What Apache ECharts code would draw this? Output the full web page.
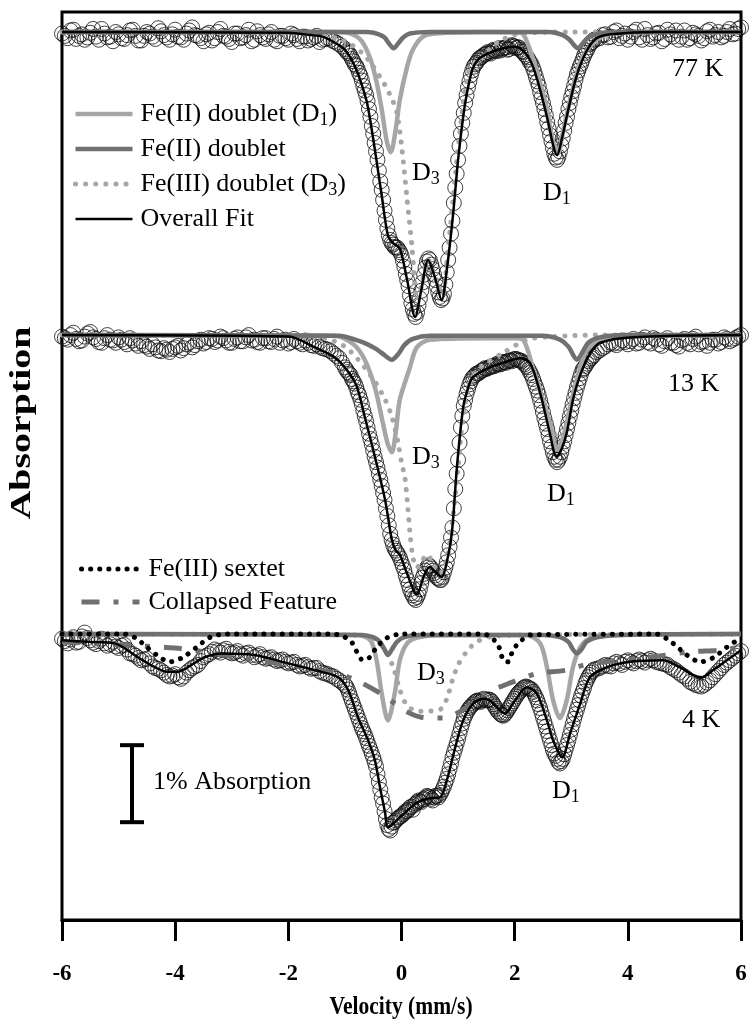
<!DOCTYPE html>
<html><head><meta charset="utf-8">
<script src="https://cdn.jsdelivr.net/npm/echarts@6/dist/echarts.min.js"></script>
<style>html,body{margin:0;padding:0;background:#fff}#c{width:751px;height:1029px}</style>
</head><body><div id="c"></div>
<script>
// Velocity channels, set A (mm/s)
const velocity = [
-6.0,-5.9,-5.8,-5.7,-5.6,-5.5,-5.4,-5.3,-5.2,-5.1,
-5.0,-4.9,-4.8,-4.7,-4.6,-4.5,-4.4,-4.3,-4.2,-4.1,
-4.0,-3.9,-3.8,-3.7,-3.6,-3.5,-3.4,-3.3,-3.2,-3.1,
-3.0,-2.9,-2.8,-2.7,-2.6,-2.5,-2.4,-2.3,-2.2,-2.1,
-2.0,-1.9,-1.8,-1.7,-1.6,-1.5,-1.4,-1.3,-1.2,-1.1,
-1.0,-0.95,-0.9,-0.85,-0.8,-0.75,-0.7,-0.65,-0.6,-0.55,
-0.5,-0.45,-0.4,-0.35,-0.3,-0.25,-0.2,-0.15,-0.1,-0.05,
0.0,0.05,0.1,0.15,0.2,0.25,0.3,0.35,0.4,0.45,
0.5,0.55,0.6,0.65,0.7,0.75,0.8,0.85,0.9,0.95,
1.0,1.05,1.1,1.15,1.2,1.25,1.3,1.35,1.4,1.45,
1.5,1.55,1.6,1.65,1.7,1.75,1.8,1.85,1.9,1.95,
2.0,2.05,2.1,2.15,2.2,2.25,2.3,2.35,2.4,2.45,
2.5,2.55,2.6,2.65,2.7,2.75,2.8,2.85,2.9,2.95,
3.0,3.05,3.1,3.15,3.2,3.25,3.3,3.35,3.4,3.5,
3.6,3.7,3.8,3.9,4.0,4.1,4.2,4.3,4.4,4.5,
4.6,4.7,4.8,4.9,5.0,5.1,5.2,5.3,5.4,5.5,
5.6,5.7,5.8,5.9,6.0];
// Velocity channels, set B (mm/s)
const velocityB = [
-5.95,-5.85,-5.75,-5.65,-5.55,-5.45,-5.35,-5.25,-5.15,-5.05,
-4.95,-4.85,-4.75,-4.65,-4.55,-4.45,-4.35,-4.25,-4.15,-4.05,
-3.95,-3.85,-3.75,-3.65,-3.55,-3.45,-3.35,-3.25,-3.15,-3.05,
-2.95,-2.85,-2.75,-2.65,-2.55,-2.45,-2.35,-2.25,-2.15,-2.05,
-1.95,-1.85,-1.75,-1.65,-1.55,-1.45,-1.35,-1.25,-1.15,-1.05,
-0.975,-0.925,-0.875,-0.825,-0.775,-0.725,-0.675,-0.625,-0.575,-0.525,
-0.475,-0.425,-0.375,-0.325,-0.275,-0.225,-0.175,-0.125,-0.075,-0.025,
0.025,0.075,0.125,0.175,0.225,0.275,0.325,0.375,0.425,0.475,
0.525,0.575,0.625,0.675,0.725,0.775,0.825,0.875,0.925,0.975,
1.025,1.075,1.125,1.175,1.225,1.275,1.325,1.375,1.425,1.475,
1.525,1.575,1.625,1.675,1.725,1.775,1.825,1.875,1.925,1.975,
2.025,2.075,2.125,2.175,2.225,2.275,2.325,2.375,2.425,2.475,
2.525,2.575,2.625,2.675,2.725,2.775,2.825,2.875,2.925,2.975,
3.025,3.075,3.125,3.175,3.225,3.275,3.325,3.375,
3.45,3.55,3.65,3.75,3.85,3.95,4.05,4.15,4.25,4.35,
4.45,4.55,4.65,4.75,4.85,4.95,5.05,5.15,5.25,5.35,
5.45,5.55,5.65,5.75,5.85,5.95];

// Measured absorption (%) on set A
const abs77K = [
0.02,0.08,-0.03,0.05,0.1,0.01,0.06,-0.04,0.07,0.12,
0.03,0.09,-0.02,0.05,0.11,0.0,0.06,-0.05,0.04,0.1,
-0.03,0.07,0.02,-0.06,0.05,0.12,0.01,0.08,-0.04,0.06,
0.13,0.02,0.07,-0.03,0.1,0.04,0.09,0.0,0.12,0.05,
0.1,0.04,0.12,0.06,0.09,0.05,0.1,0.08,0.12,0.16,
0.22,0.27,0.31,0.38,0.44,0.53,0.63,0.76,0.9,1.1,
1.32,1.55,1.8,2.05,2.32,2.55,2.7,2.76,2.8,2.83,
2.9,3.05,3.22,3.42,3.6,3.7,3.55,3.36,3.15,2.98,
2.96,3.08,3.22,3.38,3.48,3.4,3.12,2.8,2.45,2.02,
1.66,1.32,1.05,0.82,0.64,0.5,0.42,0.37,0.33,0.3,
0.28,0.27,0.25,0.24,0.23,0.24,0.21,0.2,0.22,0.17,
0.19,0.2,0.23,0.26,0.31,0.36,0.42,0.52,0.64,0.78,
0.92,1.08,1.25,1.42,1.58,1.66,1.55,1.38,1.18,1.0,
0.84,0.7,0.55,0.45,0.36,0.27,0.2,0.14,0.1,0.08,
0.03,0.06,-0.02,0.05,0.1,0.0,0.07,-0.04,0.09,0.02,
0.12,-0.03,0.06,0.1,-0.02,0.08,0.03,0.11,-0.01,0.06,
0.0,0.05,-0.04,0.02,-0.06];
const abs13K = [
0.02,0.06,-0.03,0.08,0.02,-0.04,0.05,0.1,0.0,0.07,
0.03,0.09,0.04,0.11,0.08,0.15,0.12,0.2,0.17,0.22,
0.16,0.2,0.12,0.16,0.08,0.11,0.04,0.09,0.02,0.07,
0.1,0.03,0.08,0.0,0.06,0.1,0.04,0.09,0.02,0.07,
0.11,0.05,0.1,0.07,0.13,0.12,0.17,0.19,0.24,0.3,
0.42,0.48,0.52,0.6,0.68,0.78,0.9,1.05,1.2,1.35,
1.5,1.65,1.8,1.96,2.14,2.35,2.58,2.72,2.8,2.86,
2.95,3.05,3.18,3.3,3.38,3.44,3.36,3.22,3.1,3.02,
3.0,3.06,3.12,3.16,3.18,3.08,2.95,2.75,2.5,2.0,
1.62,1.2,0.92,0.76,0.64,0.56,0.52,0.5,0.47,0.45,
0.44,0.42,0.41,0.4,0.37,0.38,0.35,0.36,0.33,0.34,
0.31,0.32,0.33,0.36,0.4,0.45,0.52,0.62,0.72,0.85,
1.0,1.15,1.3,1.45,1.58,1.65,1.58,1.45,1.3,1.14,
0.98,0.82,0.68,0.56,0.45,0.4,0.34,0.3,0.26,0.2,
0.15,0.1,0.13,0.07,0.12,0.05,0.1,0.03,0.11,0.06,
0.14,0.04,0.1,0.15,0.05,0.12,0.02,0.09,0.14,0.06,
0.11,0.03,0.08,0.04,0.0];
const abs4K = [
0.06,0.12,0.04,0.1,-0.02,0.08,0.13,0.06,0.15,0.1,
0.18,0.14,0.25,0.28,0.34,0.32,0.42,0.45,0.5,0.55,
0.52,0.58,0.5,0.44,0.4,0.3,0.26,0.2,0.24,0.19,
0.25,0.22,0.28,0.24,0.3,0.26,0.32,0.3,0.35,0.33,
0.38,0.36,0.42,0.4,0.45,0.44,0.5,0.52,0.55,0.6,
0.66,0.72,0.82,0.92,1.02,1.12,1.22,1.3,1.4,1.5,
1.6,1.72,1.92,2.12,2.3,2.48,2.55,2.45,2.42,2.38,
2.36,2.32,2.3,2.25,2.28,2.2,2.16,2.18,2.14,2.1,
2.12,2.16,2.1,2.12,2.06,1.98,1.88,1.75,1.6,1.48,
1.36,1.22,1.1,1.02,0.96,0.92,0.88,0.86,0.88,0.84,
0.86,0.85,0.88,0.94,1.0,1.04,1.06,1.02,0.96,0.9,
0.84,0.78,0.74,0.7,0.68,0.7,0.72,0.78,0.86,0.96,
1.08,1.2,1.32,1.44,1.55,1.62,1.68,1.62,1.5,1.38,
1.24,1.1,0.98,0.86,0.75,0.64,0.56,0.5,0.46,0.44,
0.4,0.42,0.36,0.4,0.34,0.38,0.33,0.37,0.32,0.36,
0.38,0.4,0.45,0.5,0.55,0.62,0.66,0.68,0.63,0.56,
0.48,0.4,0.34,0.28,0.22];

// Measured absorption (%) on set B
const abs77K_B = [
0.05,-0.02,0.09,0.03,0.07,-0.04,0.1,0.02,0.06,0.0,
0.08,0.04,-0.03,0.11,0.05,0.02,0.09,-0.01,0.07,0.03,
0.06,0.1,-0.02,0.04,0.08,0.03,0.11,0.0,0.05,0.09,
0.02,0.08,0.04,0.12,-0.01,0.07,0.03,0.1,0.05,0.08,
0.02,0.09,0.06,0.11,0.07,0.13,0.09,0.1,0.14,0.19,
0.25,0.28,0.35,0.42,0.48,0.57,0.7,0.82,1.0,1.22,
1.44,1.66,1.94,2.18,2.44,2.64,2.74,2.79,2.8,2.86,
2.97,3.14,3.3,3.52,3.66,3.64,3.46,3.25,3.06,2.94,
3.02,3.15,3.3,3.44,3.46,3.28,2.96,2.62,2.22,1.84,
1.48,1.18,0.92,0.72,0.56,0.45,0.4,0.34,0.32,0.29,
0.26,0.28,0.23,0.25,0.21,0.22,0.2,0.23,0.19,0.18,
0.21,0.2,0.25,0.29,0.33,0.4,0.47,0.58,0.7,0.85,
1.0,1.17,1.34,1.5,1.63,1.62,1.47,1.28,1.1,0.92,
0.77,0.62,0.5,0.41,0.31,0.24,0.16,0.13,
0.09,0.04,0.07,0.0,0.08,0.02,0.06,-0.03,0.1,0.04,
0.07,0.01,0.09,0.03,-0.02,0.06,0.1,0.01,0.05,0.08,
-0.03,0.04,0.07,0.0,0.03,-0.04];
const abs13K_B = [
0.04,0.0,0.05,0.07,-0.02,0.03,0.09,0.04,0.06,0.1,
0.06,0.12,0.07,0.14,0.13,0.18,0.16,0.21,0.19,0.18,
0.14,0.17,0.1,0.13,0.06,0.09,0.05,0.07,0.04,0.1,
0.05,0.08,0.03,0.07,0.09,0.04,0.08,0.05,0.1,0.06,
0.09,0.08,0.12,0.1,0.14,0.15,0.18,0.21,0.27,0.36,
0.45,0.5,0.57,0.63,0.74,0.84,0.98,1.12,1.28,1.42,
1.58,1.72,1.88,2.05,2.25,2.47,2.66,2.77,2.83,2.9,
3.0,3.12,3.24,3.35,3.42,3.4,3.3,3.15,3.06,2.99,
3.03,3.09,3.15,3.18,3.14,3.02,2.86,2.63,2.25,1.8,
1.4,1.05,0.84,0.7,0.6,0.54,0.5,0.49,0.46,0.43,
0.43,0.41,0.4,0.38,0.38,0.36,0.35,0.34,0.33,0.32,
0.31,0.33,0.34,0.38,0.42,0.49,0.57,0.67,0.78,0.92,
1.08,1.22,1.38,1.52,1.62,1.62,1.52,1.38,1.22,1.06,
0.9,0.75,0.62,0.5,0.43,0.37,0.32,0.28,
0.22,0.17,0.12,0.11,0.1,0.09,0.08,0.11,0.06,0.09,
0.04,0.12,0.08,0.1,0.13,0.07,0.1,0.05,0.12,0.08,
0.1,0.06,0.09,0.05,0.06,0.02];
const abs4K_B = [
0.09,0.07,0.11,0.03,0.05,0.11,0.09,0.12,0.13,0.16,
0.15,0.2,0.26,0.31,0.33,0.38,0.44,0.47,0.53,0.54,
0.56,0.55,0.47,0.42,0.35,0.28,0.23,0.22,0.21,0.23,
0.24,0.26,0.25,0.27,0.28,0.3,0.31,0.33,0.34,0.36,
0.37,0.4,0.41,0.43,0.44,0.48,0.51,0.54,0.58,0.63,
0.68,0.77,0.87,0.97,1.07,1.17,1.26,1.35,1.45,1.55,
1.66,1.82,2.02,2.2,2.4,2.53,2.5,2.44,2.4,2.37,
2.34,2.3,2.28,2.24,2.22,2.18,2.17,2.15,2.12,2.11,
2.14,2.12,2.1,2.09,2.02,1.93,1.82,1.68,1.54,1.42,
1.29,1.16,1.06,0.99,0.94,0.9,0.87,0.87,0.86,0.85,
0.85,0.86,0.91,0.97,1.02,1.05,1.04,0.99,0.93,0.87,
0.81,0.76,0.72,0.69,0.69,0.71,0.75,0.82,0.91,1.02,
1.14,1.26,1.38,1.5,1.58,1.66,1.65,1.56,1.44,1.31,
1.17,1.04,0.92,0.8,0.7,0.6,0.53,0.48,
0.45,0.42,0.41,0.38,0.38,0.36,0.36,0.35,0.35,0.34,
0.34,0.37,0.39,0.43,0.47,0.53,0.58,0.64,0.67,0.66,
0.6,0.52,0.44,0.37,0.31,0.25];

// Fitted components [velocity, absorption %]
const d1_77K = [[-6,0],[-1.2,0],[-0.9,0.02],[-0.7,0.12],[-0.55,0.35],[-0.45,0.62],[-0.35,1.0],[-0.26,1.42],[-0.19,1.56],[-0.1,1.25],[-0.03,0.88],[0.1,0.45],[0.2,0.23],[0.38,0.06],[0.6,0.02],[1.5,0],[2.1,0.01],[2.27,0.23],[2.45,0.66],[2.57,1.0],[2.67,1.4],[2.77,1.57],[2.85,1.31],[2.98,0.88],[3.1,0.53],[3.2,0.32],[3.45,0.1],[3.74,0.02],[4.5,0],[6,0]];
const fe2_77K = [[-6,0],[-0.6,0],[-0.4,0.03],[-0.3,0.07],[-0.22,0.15],[-0.14,0.21],[-0.06,0.15],[0.03,0.07],[0.15,0.02],[0.5,0],[2.6,0],[2.85,0.04],[2.97,0.1],[3.05,0.17],[3.12,0.21],[3.2,0.15],[3.3,0.07],[3.45,0.03],[3.8,0],[6,0]];
const d3_77K = [[-6,0],[-1.6,0.02],[-1.0,0.12],[-0.7,0.27],[-0.5,0.45],[-0.3,0.68],[-0.15,0.9],[-0.08,1.05],[0.01,1.53],[0.1,2.18],[0.19,2.83],[0.24,3.3],[0.28,3.48],[0.35,3.3],[0.47,2.96],[0.6,3.2],[0.72,3.42],[0.82,2.83],[0.91,2.18],[1.03,1.31],[1.2,0.49],[1.39,0.36],[1.69,0.14],[2.1,0.02],[3,0],[6,0]];
const fit_77K = [[-6,0],[-2,0.01],[-1.6,0.04],[-1.4,0.06],[-1.2,0.13],[-1.0,0.23],[-0.82,0.45],[-0.7,0.69],[-0.6,0.95],[-0.47,1.53],[-0.35,2.12],[-0.24,2.64],[-0.15,2.74],[-0.03,2.81],[0.1,3.22],[0.24,3.7],[0.35,3.35],[0.47,2.96],[0.58,3.16],[0.71,3.48],[0.8,3.09],[0.91,2.38],[1.0,1.66],[1.09,1.1],[1.15,0.82],[1.25,0.49],[1.35,0.36],[1.47,0.3],[1.7,0.23],[1.97,0.19],[2.1,0.21],[2.27,0.36],[2.4,0.62],[2.57,1.1],[2.68,1.47],[2.75,1.6],[2.83,1.4],[2.92,1.1],[3.05,0.69],[3.15,0.45],[3.3,0.21],[3.45,0.08],[3.7,0.03],[4.5,0],[6,0]];

const d1_13K = [[-6,0],[-1.2,0.01],[-0.85,0.12],[-0.65,0.32],[-0.47,0.68],[-0.33,1.14],[-0.24,1.42],[-0.17,1.52],[-0.1,1.25],[-0.03,0.84],[0.15,0.42],[0.27,0.16],[0.5,0.06],[1.5,0.04],[2.0,0.04],[2.15,0.06],[2.32,0.42],[2.5,0.84],[2.66,1.23],[2.74,1.49],[2.82,1.4],[2.89,1.23],[3.01,0.84],[3.13,0.49],[3.28,0.19],[3.63,0.04],[4.5,0.01],[6,0]];
const fe2_13K = [[-6,0],[-1.1,0.01],[-0.82,0.06],[-0.6,0.12],[-0.45,0.18],[-0.3,0.26],[-0.17,0.32],[-0.05,0.24],[0.05,0.13],[0.2,0.05],[0.5,0.01],[2.5,0.01],[2.8,0.06],[2.95,0.15],[3.05,0.28],[3.1,0.32],[3.2,0.22],[3.3,0.1],[3.5,0.03],[4,0],[6,0]];
const d3_13K = [[-6,0],[-1.5,0.03],[-1.0,0.15],[-0.52,0.55],[-0.29,0.84],[-0.17,1.06],[-0.06,1.4],[0.0,1.65],[0.06,1.85],[0.1,2.14],[0.15,2.57],[0.2,2.88],[0.27,3.02],[0.35,2.95],[0.45,2.85],[0.58,3.0],[0.68,3.09],[0.8,2.92],[0.91,2.36],[1.0,1.71],[1.09,1.06],[1.21,0.62],[1.39,0.42],[1.8,0.23],[2.22,0.06],[2.68,0.02],[3.5,0],[6,0]];
const fit_13K = [[-6,0],[-2,0.02],[-1.53,0.16],[-1.2,0.28],[-1.0,0.42],[-0.8,0.65],[-0.65,1.06],[-0.47,1.58],[-0.29,2.14],[-0.17,2.66],[-0.1,2.8],[-0.03,2.85],[0.1,3.1],[0.27,3.37],[0.4,3.12],[0.5,3.01],[0.6,3.08],[0.71,3.14],[0.8,2.95],[0.89,2.57],[0.98,1.71],[1.09,0.94],[1.18,0.68],[1.26,0.55],[1.56,0.42],[1.8,0.36],[2.09,0.3],[2.27,0.36],[2.45,0.75],[2.62,1.27],[2.74,1.58],[2.83,1.48],[2.92,1.27],[3.03,0.84],[3.12,0.6],[3.21,0.42],[3.35,0.22],[3.51,0.1],[4.04,0.03],[6,0]];

const d1_4K = [[-6,0],[-0.8,0.01],[-0.55,0.08],[-0.44,0.34],[-0.35,0.77],[-0.24,1.12],[-0.12,0.77],[-0.03,0.34],[0.1,0.12],[0.3,0.04],[0.8,0.01],[2.2,0.01],[2.45,0.12],[2.57,0.43],[2.68,0.86],[2.8,1.09],[2.92,0.86],[3.03,0.43],[3.16,0.17],[3.35,0.05],[4,0.01],[6,0]];
const fe2_4K = [[-6,0],[-0.7,0.01],[-0.5,0.04],[-0.38,0.1],[-0.3,0.2],[-0.24,0.27],[-0.17,0.2],[-0.08,0.1],[0.05,0.04],[0.3,0.01],[2.5,0.01],[2.8,0.04],[2.95,0.1],[3.03,0.2],[3.1,0.25],[3.18,0.2],[3.27,0.1],[3.45,0.04],[3.8,0.01],[6,0]];
const d3_4K = [[-6,0],[-1,0.01],[-0.5,0.05],[-0.3,0.2],[-0.15,0.42],[-0.03,0.72],[0.1,0.93],[0.3,1.0],[0.5,1.0],[0.7,0.97],[0.8,0.84],[0.9,0.6],[1.0,0.4],[1.16,0.22],[1.33,0.1],[1.6,0.03],[2.2,0.01],[6,0]];
const sextet_4K = [[-6,0],[-4.9,0],[-4.7,0.05],[-4.5,0.17],[-4.27,0.3],[-4.1,0.36],[-3.86,0.3],[-3.62,0.17],[-3.38,0.04],[-3.1,0],[-1.2,0],[-0.91,0.08],[-0.79,0.23],[-0.68,0.34],[-0.56,0.3],[-0.44,0.17],[-0.26,0.05],[0,0],[1.45,0],[1.69,0.12],[1.8,0.34],[1.88,0.36],[1.97,0.21],[2.09,0.1],[2.3,0.01],[4.5,0],[4.8,0.12],[5.04,0.27],[5.28,0.36],[5.5,0.31],[5.75,0.17],[5.93,0.08],[6,0.05]];
const collapsed_4K = [[-6,0.1],[-5,0.14],[-4,0.18],[-3.4,0.24],[-2.2,0.38],[-1.2,0.5],[-0.8,0.6],[-0.35,0.78],[0.1,1.01],[0.45,1.09],[0.75,1.09],[1.07,0.99],[1.45,0.78],[1.97,0.62],[2.4,0.51],[2.9,0.47],[3.35,0.38],[4.3,0.31],[5.1,0.23],[5.6,0.21],[6,0.17]];
const fit_4K = [[-6,0.08],[-5.54,0.1],[-5.07,0.12],[-4.66,0.3],[-4.36,0.43],[-4.13,0.49],[-3.96,0.49],[-3.71,0.4],[-3.48,0.3],[-3.18,0.25],[-2.6,0.27],[-2.0,0.38],[-1.41,0.49],[-1.12,0.56],[-0.94,0.73],[-0.77,1.08],[-0.59,1.38],[-0.47,1.64],[-0.38,1.99],[-0.29,2.32],[-0.24,2.51],[-0.03,2.38],[0.27,2.19],[0.5,2.13],[0.68,2.12],[0.8,1.9],[0.95,1.47],[1.09,1.12],[1.27,0.9],[1.45,0.84],[1.56,0.86],[1.83,1.03],[1.97,0.9],[2.22,0.69],[2.39,0.77],[2.57,1.12],[2.68,1.38],[2.84,1.6],[2.98,1.29],[3.16,0.9],[3.33,0.56],[3.63,0.43],[4.04,0.36],[4.62,0.34],[4.92,0.43],[5.15,0.53],[5.31,0.56],[5.5,0.47],[5.75,0.34],[6.0,0.21]];

// Stacking offsets (% units) and scale bar length
const offset77K = 0, offset13K = -3.935, offset4K = -7.818;
const scaleBarPercent = 1;

const SERIF = 'Liberation Serif';
const LG = '#a6a6a6', DG = '#707070';
const ST = {
  d1: {color: LG, width: 4.5},
  fe2: {color: DG, width: 4.5},
  d3: {color: LG, width: 5, type: [0.1, 10], cap: 'round'},
  fit: {color: '#000', width: 2.5},
  sextet: {color: '#000', width: 5, type: [0.1, 9], cap: 'round'},
  coll: {color: DG, width: 5, type: [18, 14, 5, 14]}
};
const N = {d1:'Fe(II) doublet (D1)', fe2:'Fe(II) doublet', d3:'Fe(III) doublet (D3)', fit:'Overall Fit', sextet:'Fe(III) sextet', coll:'Collapsed Feature'};

function shiftCurve(arr, off){ return arr.map(p => [p[0], off - p[1]]); }
function shiftData(vs, ds, off){ return vs.map((v,i) => [v, off - ds[i]]); }
function lineS(key, arr, off, z){
  return {type:'line', name:N[key], data:shiftCurve(arr, off), symbol:'none', smooth:0.3,
    color: ST[key].color, lineStyle: ST[key], itemStyle:{color:ST[key].color}, z: z, silent:true};
}
function dataS(vs, ds, off){
  return {type:'scatter', name:'data', data:shiftData(vs, ds, off), symbol:'circle', symbolSize:15,
    itemStyle:{color:'rgba(255,255,255,0)', borderColor:'#111', borderWidth:1}, z:1, silent:true};
}
function legItem(key){
  const s = ST[key];
  return {name:N[key], itemStyle:{opacity:0}, lineStyle:{color:s.color, width:s.width, type:s.type || 'solid', cap:s.cap || 'butt', opacity:1}};
}

const barV = -4.763, barTop = -9.26;
const series = [
  dataS(velocity, abs77K, offset77K), dataS(velocityB, abs77K_B, offset77K),
  dataS(velocity, abs13K, offset13K), dataS(velocityB, abs13K_B, offset13K),
  dataS(velocity, abs4K, offset4K), dataS(velocityB, abs4K_B, offset4K),
  lineS('d3', d3_77K, offset77K, 2), lineS('d1', d1_77K, offset77K, 3), lineS('fe2', fe2_77K, offset77K, 3), lineS('fit', fit_77K, offset77K, 4),
  lineS('d3', d3_13K, offset13K, 2), lineS('d1', d1_13K, offset13K, 3), lineS('fe2', fe2_13K, offset13K, 3), lineS('fit', fit_13K, offset13K, 4),
  lineS('d3', d3_4K, offset4K, 2), lineS('d1', d1_4K, offset4K, 3), lineS('fe2', fe2_4K, offset4K, 3),
  lineS('coll', collapsed_4K, offset4K, 3), lineS('sextet', sextet_4K, offset4K, 3), lineS('fit', fit_4K, offset4K, 4),
  {type:'line', name:'scale', data:[[barV, barTop],[barV, barTop - scaleBarPercent]], symbol:'rect', symbolSize:[24,4], showSymbol:true,
    lineStyle:{color:'#000', width:4}, itemStyle:{color:'#000'}, z:5, silent:true}
];

const richSub = {s:{fontSize:18, fontFamily:SERIF, color:'#000', lineHeight:12, verticalAlign:'bottom'}};
const legendText = {fontFamily:SERIF, fontSize:26, color:'#000', lineHeight:30, rich:richSub};
const fmt = n => n.replace('(D1)','(D{s|1})').replace('(D3)','(D{s|3})');

function gText(x, y, text, sub){
  const t = sub ? '{d|' + text + '}{s|' + sub + '}' : text;
  return {type:'text', x:x, y:y, silent:true, z:10, style:{text:t, fontSize:26, fontFamily:SERIF, fill:'#000', verticalAlign:'middle', align:'left',
    rich:{d:{fontSize:26, fontFamily:SERIF, fill:'#000', lineHeight:30}, s:{fontSize:18, fontFamily:SERIF, fill:'#000', lineHeight:12, verticalAlign:'bottom'}}}};
}

const chart = echarts.init(document.getElementById('c'), null, {renderer:'canvas'});
chart.setOption({
  animation:false,
  backgroundColor:'#fff',
  grid:{left:62, right:10, top:12, bottom:109, show:true, borderColor:'#000', borderWidth:3},
  xAxis:{type:'value', min:-6, max:6, interval:2,
    axisLine:{onZero:false, lineStyle:{color:'#000', width:3}},
    axisTick:{length:21, lineStyle:{color:'#000', width:3}},
    axisLabel:{fontSize:23, fontWeight:'bold', fontFamily:SERIF, color:'#000', margin:43},
    splitLine:{show:false}},
  yAxis:{type:'value', min:-11.53, max:0.26, axisLine:{show:false}, axisTick:{show:false}, axisLabel:{show:false}, splitLine:{show:false}},
  legend:[
    {data:[legItem('d1'), legItem('fe2'), legItem('d3'), legItem('fit')], orient:'vertical', left:68, top:94, itemWidth:57, itemHeight:14, itemGap:5,
     selectedMode:false, formatter:fmt, itemStyle:{opacity:0}, textStyle:Object.assign({padding:[0,0,0,3]}, legendText)},
    {data:[legItem('sextet'), legItem('coll')], orient:'vertical', left:74, top:549, itemWidth:58, itemHeight:14, itemGap:3,
     selectedMode:false, itemStyle:{opacity:0}, textStyle:Object.assign({padding:[0,0,0,4]}, legendText)}
  ],
  graphic:[
    gText(412, 173, 'D', '3'), gText(543, 193, 'D', '1'), gText(672, 69, '77 K'),
    gText(412, 457, 'D', '3'), gText(547, 494, 'D', '1'), gText(668, 384, '13 K'),
    gText(417, 673, 'D', '3'), gText(552, 791, 'D', '1'), gText(682, 720, '4 K'),
    gText(153, 782, '1% Absorption'),
    {type:'text', x:22, y:423, rotation:Math.PI/2, scaleX:1.33, silent:true,
     style:{text:'Absorption', fontSize:30, fontWeight:'bold', fontFamily:SERIF, fill:'#000', align:'center', verticalAlign:'middle'}},
    {type:'text', x:401, y:1008, scaleX:0.86, silent:true,
     style:{text:'Velocity (mm/s)', fontSize:25, fontWeight:'bold', fontFamily:SERIF, fill:'#000', align:'center', verticalAlign:'middle'}}
  ],
  series: series
});
</script></body></html>
